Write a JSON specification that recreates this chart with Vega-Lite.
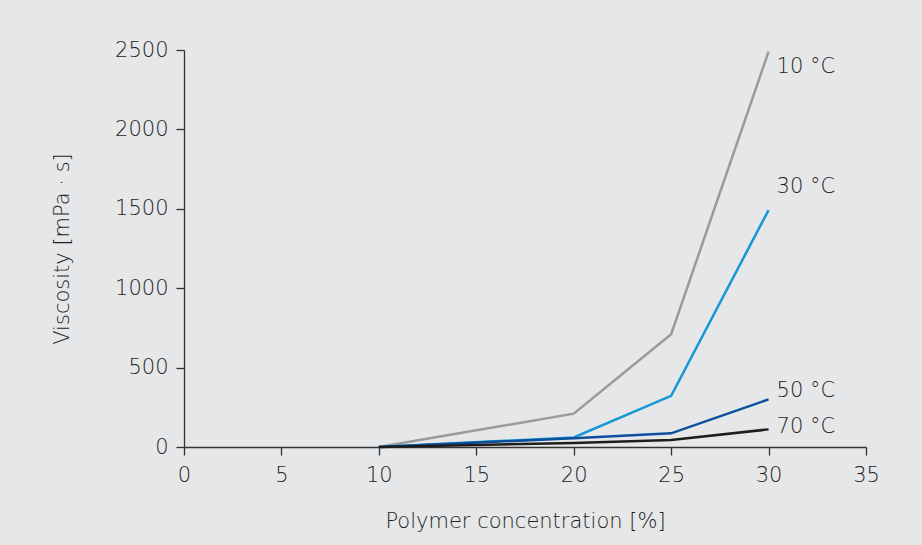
{
  "$schema": "https://vega.github.io/schema/vega-lite/v6.json",
  "width": 682,
  "height": 397,
  "autosize": {"type": "none"},
  "padding": {"left": 184, "top": 50, "right": 56, "bottom": 98},
  "background": "#e6e7e8",
  "config": {
    "view": {"stroke": null},
    "font": "DejaVu Sans",
    "axis": {
      "labelFont": "DejaVu Sans", "labelFontWeight": 200, "labelFontSize": 21, "labelColor": "#1f1f1f",
      "titleFont": "DejaVu Sans", "titleFontWeight": 200, "titleFontSize": 21, "titleColor": "#1f1f1f",
      "domainColor": "#333333", "tickColor": "#333333", "domainWidth": 1.3, "tickWidth": 1.3,
      "grid": false, "tickSize": 8
    }
  },
  "datasets": {
    "series": [
      {"conc": 10, "visc": 0, "temp": "10 °C"},
      {"conc": 20, "visc": 210, "temp": "10 °C"},
      {"conc": 25, "visc": 710, "temp": "10 °C"},
      {"conc": 30, "visc": 2490, "temp": "10 °C"},
      {"conc": 10, "visc": 0, "temp": "30 °C"},
      {"conc": 20, "visc": 60, "temp": "30 °C"},
      {"conc": 25, "visc": 322, "temp": "30 °C"},
      {"conc": 30, "visc": 1492, "temp": "30 °C"},
      {"conc": 10, "visc": 0, "temp": "50 °C"},
      {"conc": 20, "visc": 55, "temp": "50 °C"},
      {"conc": 25, "visc": 86, "temp": "50 °C"},
      {"conc": 30, "visc": 300, "temp": "50 °C"},
      {"conc": 10, "visc": 0, "temp": "70 °C"},
      {"conc": 20, "visc": 25, "temp": "70 °C"},
      {"conc": 25, "visc": 44, "temp": "70 °C"},
      {"conc": 30, "visc": 111, "temp": "70 °C"}
    ],
    "labels": [
      {"conc": 30, "labelY": 2393, "temp": "10 °C"},
      {"conc": 30, "labelY": 1637, "temp": "30 °C"},
      {"conc": 30, "labelY": 353, "temp": "50 °C"},
      {"conc": 30, "labelY": 126, "temp": "70 °C"}
    ]
  },
  "layer": [
    {
      "data": {"name": "series"},
      "mark": {"type": "line", "strokeWidth": 2.5, "strokeJoin": "miter"},
      "encoding": {
        "x": {
          "field": "conc", "type": "quantitative",
          "scale": {"domain": [0, 35], "nice": false, "zero": false},
          "axis": {"values": [0, 5, 10, 15, 20, 25, 30, 35], "format": "d", "title": "Polymer concentration [%]", "labelPadding": 9, "titlePadding": 25, "labelFlush": false}
        },
        "y": {
          "field": "visc", "type": "quantitative",
          "scale": {"domain": [0, 2500], "nice": false},
          "axis": {"values": [0, 500, 1000, 1500, 2000, 2500], "format": "d", "title": "Viscosity [mPa · s]", "labelPadding": 8, "titlePadding": 42, "labelFlush": false}
        },
        "color": {
          "field": "temp", "type": "nominal", "legend": null,
          "scale": {"domain": ["10 °C", "30 °C", "50 °C", "70 °C"], "range": ["#999a9b", "#1598d5", "#0c4f9d", "#1d1d1b"]}
        },
        "detail": {"field": "temp"}
      }
    },
    {
      "data": {"name": "labels"},
      "mark": {"type": "text", "align": "left", "baseline": "middle", "dx": 8, "font": "DejaVu Sans", "fontWeight": 200, "fontSize": 21, "color": "#1f1f1f"},
      "encoding": {
        "x": {"field": "conc", "type": "quantitative"},
        "y": {"field": "labelY", "type": "quantitative"},
        "text": {"field": "temp"}
      }
    }
  ]
}
